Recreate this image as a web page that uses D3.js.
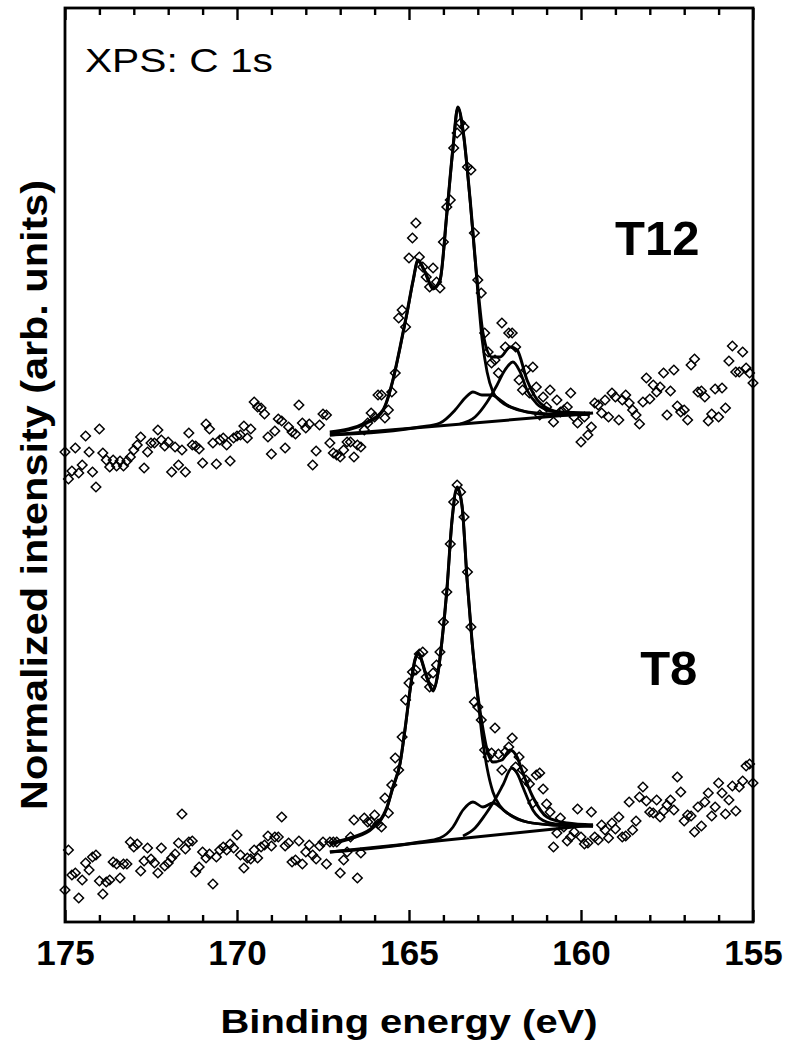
<!DOCTYPE html>
<html>
<head>
<meta charset="utf-8">
<script src="https://cdn.jsdelivr.net/npm/d3@7"></script>
<style>
  body { margin: 0; background: #fff; }
  svg { display: block; }
</style>
</head>
<body>
<div id="xps-vis"></div>
<script>
// scan grid (eV)
const scanStart = 175, scanStep = 0.1;
const majorTicks = [175, 170, 165, 160, 155];

// measured points, one per grid step (arb. units)
const t12Counts = [
  4.70,4.43,4.51,4.74,4.49,4.57,4.86,4.70,4.50,4.35,
  4.93,4.69,4.62,4.55,4.62,4.56,4.61,4.56,4.61,4.65,
  4.72,4.77,4.85,4.54,4.70,4.79,4.79,4.92,4.82,4.76,
  4.80,4.50,4.75,4.57,4.72,4.50,4.89,4.77,4.76,4.73,
  4.59,4.98,4.93,4.79,4.58,4.82,4.84,4.77,4.61,4.84,
  4.86,4.87,4.96,4.84,4.93,5.20,5.15,5.14,5.08,4.85,
  4.68,4.91,5.03,5.01,4.74,4.95,4.90,4.88,5.17,4.99,
  4.94,4.98,4.57,4.71,4.97,5.08,5.07,4.79,4.69,
  4.67,4.65,4.72,4.80,4.80,4.65,4.77,4.75,4.92,4.99,
  5.09,5.05,5.27,5.27,5.04,5.12,5.30,5.49,6.04,6.12,
  5.95,6.64,6.84,6.99,6.65,6.55,6.45,6.35,6.54,6.40,
  6.34,6.80,7.15,7.22,7.74,7.89,7.99,7.95,7.55,7.52,
  6.89,6.42,6.29,5.89,5.70,5.59,5.62,5.49,5.99,5.75,
  5.89,5.89,5.75,5.42,5.32,5.52,5.29,5.55,5.35,5.07,
  5.25,5.15,5.32,5.00,5.22,5.10,5.12,5.15,5.29,5.05,
  4.99,4.80,5.05,4.87,4.95,
  5.19,5.17,5.09,5.22,5.05,5.29,5.25,5.02,5.22,5.27,
  5.19,5.12,5.07,4.98,5.20,5.44,5.23,5.37,5.30,5.35,
  5.49,5.07,5.31,5.52,5.16,5.10,5.12,5.02,5.57,5.63,
  5.30,5.31,5.25,5.01,5.08,5.33,5.05,5.34,5.14,5.61,
  5.76,5.50,5.50,5.70,5.54,5.49,5.39
];
const t8Counts = [
  0.32,0.72,0.47,0.49,0.24,0.42,0.59,0.52,0.65,0.67,
  0.41,0.28,0.40,0.42,0.60,0.58,0.44,0.58,0.58,0.80,
  0.75,0.78,0.51,0.61,0.74,0.63,0.59,0.49,0.74,0.56,
  0.59,0.64,0.68,0.79,1.08,0.73,0.80,0.81,0.50,0.55,
  0.70,0.64,0.68,0.38,0.65,0.72,0.75,0.72,0.78,0.74,
  0.87,0.67,0.54,0.64,0.63,0.72,0.64,0.75,0.77,0.86,
  0.76,0.85,0.85,1.05,0.76,0.79,0.60,0.62,0.81,0.58,
  0.70,0.77,0.67,0.63,0.76,0.80,0.58,0.80,0.80,
  0.80,0.49,0.62,0.70,0.85,1.02,0.44,0.69,1.04,1.00,
  1.00,1.07,0.98,0.95,1.24,1.09,1.37,1.64,1.52,1.85,
  2.22,2.39,2.50,2.52,2.68,2.70,2.45,2.35,2.49,2.57,
  2.70,3.00,3.30,3.78,4.20,4.37,4.30,4.05,3.50,2.95,
  2.20,2.15,2.02,1.72,1.65,1.69,1.94,1.68,1.52,1.70,
  1.75,1.84,1.55,1.65,1.52,1.42,1.38,1.19,1.47,1.49,
  1.33,1.18,1.10,0.75,0.89,1.04,0.95,0.81,0.85,0.90,
  1.13,0.85,0.78,0.79,1.10,
  0.85,0.82,0.97,0.92,0.84,0.99,0.93,1.05,0.85,0.86,
  1.20,0.92,1.01,1.25,1.35,1.21,1.10,1.09,1.22,1.05,
  1.11,1.17,1.22,1.12,1.45,1.30,1.01,1.07,1.06,0.90,
  1.15,0.96,1.20,1.29,1.06,1.15,1.39,1.29,1.08,1.22,
  1.36,1.11,1.35,1.41,1.56,1.58,1.39
];

// fitted curves, [binding energy, intensity]
const t12Baseline = [[167.30,4.87],[159.65,5.09]];
const t12Envelope = [[167.30,4.90],[166.22,5.00],[165.76,5.12],[165.47,5.42],[165.26,5.75],[165.06,6.09],[164.88,6.42],[164.74,6.62],[164.53,6.50],[164.30,6.34],[164.10,6.42],[163.90,7.09],[163.72,7.75],[163.58,8.15],[163.43,7.92],[163.23,7.25],[163.02,6.42],[162.85,5.89],[162.59,5.65],[162.35,5.65],[162.06,5.75],[161.86,5.72],[161.57,5.42],[161.19,5.19],[160.61,5.10],[159.74,5.09]];
const t12Main = [[167.30,4.89],[166.22,4.99],[165.76,5.11],[165.47,5.41],[165.26,5.74],[165.06,6.08],[164.88,6.41],[164.74,6.61],[164.53,6.49],[164.30,6.33],[164.10,6.41],[163.90,7.08],[163.72,7.74],[163.58,8.14],[163.43,7.91],[163.23,7.24],[163.02,6.38],[162.88,5.84],[162.73,5.50],[162.56,5.30],[162.35,5.21],[162.06,5.15],[161.57,5.10],[160.41,5.07],[159.74,5.08]];
const t12Broad = [[167.30,4.87],[164.68,4.95],[164.10,4.99],[163.66,5.12],[163.37,5.24],[163.14,5.30],[162.88,5.27],[162.59,5.27],[162.35,5.22],[162.15,5.17],[161.77,5.12],[161.19,5.08],[159.74,5.08]];
const t12Small = [[163.52,4.98],[163.08,5.05],[162.73,5.20],[162.44,5.37],[162.21,5.52],[161.98,5.60],[161.77,5.50],[161.57,5.32],[161.28,5.18],[160.90,5.11],[160.32,5.08],[159.74,5.08]];

const t8Baseline = [[167.30,0.70],[159.65,0.97]];
const t8Envelope = [[167.30,0.79],[166.63,0.85],[166.05,0.95],[165.64,1.15],[165.47,1.35],[165.26,1.59],[165.12,1.92],[164.97,2.32],[164.83,2.62],[164.74,2.69],[164.48,2.45],[164.30,2.32],[164.16,2.49],[164.04,2.82],[163.90,3.32],[163.75,4.02],[163.60,4.35],[163.46,4.17],[163.31,3.42],[163.17,2.82],[163.02,2.32],[162.88,1.99],[162.73,1.72],[162.56,1.60],[162.30,1.62],[162.06,1.72],[161.86,1.65],[161.69,1.49],[161.40,1.25],[160.99,1.05],[160.41,0.99],[159.65,0.97]];
const t8Main = [[167.30,0.78],[166.63,0.84],[166.05,0.94],[165.64,1.14],[165.47,1.34],[165.26,1.58],[165.12,1.91],[164.97,2.31],[164.83,2.61],[164.74,2.68],[164.48,2.44],[164.30,2.31],[164.16,2.48],[164.04,2.81],[163.90,3.31],[163.75,4.01],[163.60,4.34],[163.46,4.16],[163.31,3.41],[163.17,2.81],[163.02,2.31],[162.88,1.87],[162.73,1.54],[162.56,1.30],[162.35,1.16],[162.06,1.07],[161.57,1.00],[160.81,0.97],[159.65,0.96]];
const t8Broad = [[167.30,0.70],[164.68,0.80],[164.10,0.84],[163.72,0.95],[163.43,1.12],[163.14,1.20],[162.85,1.15],[162.56,1.19],[162.15,1.09],[161.57,1.00],[160.81,0.97],[159.65,0.96]];
const t8Small = [[163.43,0.86],[163.08,0.94],[162.79,1.07],[162.56,1.19],[162.27,1.37],[162.01,1.54],[161.83,1.47],[161.69,1.35],[161.40,1.12],[160.99,1.00],[160.41,0.97],[159.65,0.96]];

/**
 * Constructor for the XPS chart
 */
function XpsVis(){
    let self = this;
    self.init();
};

/**
 * Sets up svg, scales and frame
 */
XpsVis.prototype.init = function(){
    let self = this;
    self.margin = {top: 8, right: 39, bottom: 128, left: 65};
    self.svgWidth = 792;
    self.svgHeight = 1050;
    self.width = self.svgWidth - self.margin.left - self.margin.right;
    self.height = self.svgHeight - self.margin.top - self.margin.bottom;

    self.svg = d3.select("#xps-vis").append("svg")
        .attr("width", self.svgWidth)
        .attr("height", self.svgHeight);

    self.g = self.svg.append("g")
        .attr("transform", "translate(" + self.margin.left + "," + self.margin.top + ")");

    self.x = d3.scaleLinear().domain([175, 155]).range([0, self.width]);
    self.y = d3.scaleLinear().domain([0, 9.14]).range([self.height, 0]);

    self.drawAxes();
    self.update();
};

XpsVis.prototype.drawAxes = function(){
    let self = this;
    let minorTicks = d3.range(156, 175).filter(d => d % 5 !== 0);

    // bottom: major with labels, minor without
    let bottom = self.g.append("g").attr("transform", "translate(0," + self.height + ")");
    bottom.call(d3.axisBottom(self.x).tickValues(majorTicks).tickSizeInner(-12).tickSizeOuter(0)
        .tickPadding(18).tickFormat(d3.format("d")));
    bottom.append("g").call(d3.axisBottom(self.x).tickValues(minorTicks).tickSizeInner(-7)
        .tickSizeOuter(0).tickFormat(""));

    // top: ticks only
    let top = self.g.append("g");
    top.call(d3.axisTop(self.x).tickValues(majorTicks).tickSizeInner(-12).tickSizeOuter(0).tickFormat(""));
    top.append("g").call(d3.axisTop(self.x).tickValues(minorTicks).tickSizeInner(-7)
        .tickSizeOuter(0).tickFormat(""));

    self.g.selectAll(".domain").remove();
    self.g.selectAll(".tick line").attr("stroke", "#000").attr("stroke-width", 2.4);
    bottom.selectAll(".tick text")
        .attr("fill", "#000")
        .style("font-family", "'Liberation Sans', Arial, sans-serif")
        .style("font-weight", "bold")
        .style("font-size", "35px");

    // frame
    self.g.append("rect")
        .attr("x", 0).attr("y", 0)
        .attr("width", self.width).attr("height", self.height)
        .attr("fill", "none").attr("stroke", "#000").attr("stroke-width", 2.8);

    // axis titles
    self.svg.append("text")
        .attr("x", self.margin.left + self.width / 2).attr("y", 1033)
        .attr("text-anchor", "middle")
        .attr("textLength", 377).attr("lengthAdjust", "spacingAndGlyphs")
        .style("font-family", "'Liberation Sans', Arial, sans-serif")
        .style("font-weight", "bold").style("font-size", "34px")
        .text("Binding energy (eV)");

    self.svg.append("text")
        .attr("transform", "translate(47," + 495 + ") rotate(-90)")
        .attr("text-anchor", "middle")
        .attr("textLength", 630).attr("lengthAdjust", "spacingAndGlyphs")
        .style("font-family", "'Liberation Sans', Arial, sans-serif")
        .style("font-weight", "bold").style("font-size", "37px")
        .text("Normalized intensity (arb. units)");
};

/**
 * Draws spectra, fits and labels
 */
XpsVis.prototype.update = function(){
    let self = this;
    let energies = d3.range(t12Counts.length).map(i => +(scanStart - i * scanStep).toFixed(1));

    let line = d3.line()
        .x(d => self.x(d[0]))
        .y(d => self.y(d[1]))
        .curve(d3.curveMonotoneX);

    let fits = [
        {data: t12Baseline, w: 3}, {data: t12Broad, w: 2.8}, {data: t12Small, w: 2.8},
        {data: t12Main, w: 2.8}, {data: t12Envelope, w: 3},
        {data: t8Baseline, w: 3}, {data: t8Broad, w: 2.8}, {data: t8Small, w: 2.8},
        {data: t8Main, w: 2.8}, {data: t8Envelope, w: 3}
    ];

    let symbol = d3.symbol().type(d3.symbolSquare).size(46);
    [t12Counts, t8Counts].forEach(function(counts, k){
        self.g.append("g").attr("class", "pts-" + k)
            .selectAll("path").data(counts).enter().append("path")
            .attr("d", symbol)
            .attr("transform", (d, i) => "translate(" + self.x(energies[i]) + "," + self.y(d) + ") rotate(45)")
            .attr("fill", "none")
            .attr("stroke", "#000")
            .attr("stroke-width", 1.5);
    });

    self.g.selectAll(".fit").data(fits).enter().append("path")
        .attr("class", "fit")
        .attr("d", d => line(d.data))
        .attr("fill", "none")
        .attr("stroke", "#000")
        .attr("stroke-width", d => d.w)
        .attr("stroke-linejoin", "round");

    // labels
    self.g.append("text")
        .attr("x", self.x(174.42)).attr("y", self.y(8.50))
        .attr("textLength", 188).attr("lengthAdjust", "spacingAndGlyphs")
        .style("font-family", "'Liberation Sans', Arial, sans-serif")
        .style("font-size", "34px")
        .text("XPS: C 1s");

    [{t: "T12", e: 159.01, v: 6.67}, {t: "T8", e: 158.28, v: 2.37}].forEach(function(l){
        self.g.append("text")
            .attr("x", self.x(l.e)).attr("y", self.y(l.v))
            .style("font-family", "'Liberation Sans', Arial, sans-serif")
            .style("font-weight", "bold").style("font-size", "49px")
            .text(l.t);
    });
};

new XpsVis();
</script>
</body>
</html>
